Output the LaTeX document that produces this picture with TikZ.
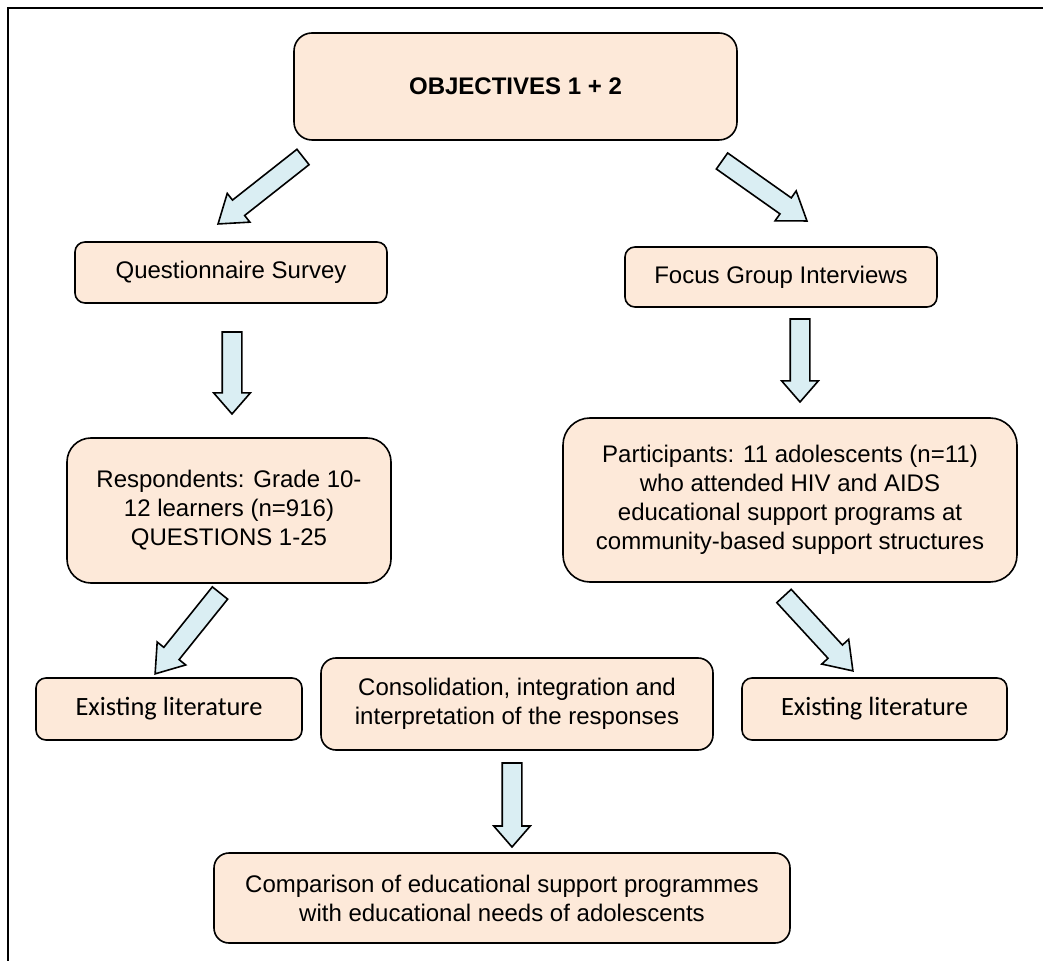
\documentclass[tikz,border=0pt]{standalone}
\usepackage{fontspec}
\setmainfont{Liberation Sans}
\newfontfamily\calfont{Carlito}
\usetikzlibrary{shapes.arrows,calc}
\definecolor{boxfill}{HTML}{FDE9D9}
\definecolor{arrfill}{HTML}{DAEEF3}
\tikzset{
  box/.style={draw, fill=boxfill, line width=0.8pt, align=center, inner sep=0pt,
    font=\fontsize{12}{14.5}\selectfont},
  blockarr/.style={single arrow, draw, fill=arrfill, line width=0.8pt,
    inner xsep=0pt, inner ysep=4.5pt, outer sep=0pt,
    single arrow head extend=4.25pt, single arrow tip angle=#1},
  blockarr/.default=82
}
% block arrow from a tail point to a tip point
\newcommand{\blockarrow}[3][82]{%
  \path let \p1=($(#3)-(#2)$) in
    node[blockarr=#1, minimum height={veclen(\x1,\y1)}, rotate={atan2(\y1,\x1)}, anchor=tail] at (#2) {};}

\begin{document}
\begin{tikzpicture}[x=0.5pt,y=-0.5pt]
\useasboundingbox (0,0) rectangle (1043,961);
\draw[line width=0.8pt] (8,961) -- (8,8) -- (1043,8);

\node[box, minimum width=221.5pt, minimum height=53.5pt, rounded corners=9pt,
  font=\fontsize{12}{14.5}\selectfont\bfseries] (obj) at (515.5,86.5) {OBJECTIVES 1 + 2};
\node[box, minimum width=156pt, minimum height=30.5pt, rounded corners=5pt] (qs) at (231,272.5) {Questionnaire Survey};
\node[box, minimum width=156pt, minimum height=30pt, rounded corners=5pt] (fg) at (781,277) {Focus Group Interviews};
\node[box, minimum width=162pt, minimum height=72.5pt, rounded corners=12pt] (resp) at (229,510.5)
  {Respondents: Grade 10-\\12 learners (n=916)\\QUESTIONS 1-25};
\node[box, minimum width=227pt, minimum height=82pt, rounded corners=13.5pt] (part) at (790,500)
  {Participants: 11 adolescents (n=11)\\who attended HIV and AIDS\\educational support programs at\\community-based support structures};
\node[box, minimum width=133pt, minimum height=31pt, rounded corners=5pt,
  font=\calfont\fontsize{13.2}{16}\selectfont] (litL) at (169,709) {Existing literature};
\node[box, minimum width=196pt, minimum height=46pt, rounded corners=7.5pt] (cons) at (517,704)
  {Consolidation, integration and\\interpretation of the responses};
\node[box, minimum width=132.5pt, minimum height=31pt, rounded corners=5pt,
  font=\calfont\fontsize{13.2}{16}\selectfont] (litR) at (874.5,709) {Existing literature};
\node[box, minimum width=288pt, minimum height=45pt, rounded corners=7.5pt] (comp) at (502,898)
  {Comparison of educational support programmes\\with educational needs of adolescents};

% arrow ends
\coordinate (aL1s) at (303,157);  \coordinate (aL1e) at (218,224);
\coordinate (aR1s) at (722,161);  \coordinate (aR1e) at (807,221);
\coordinate (aQs)  at (232,332);  \coordinate (aQe)  at (232,414);
\coordinate (aFs)  at (800,319);  \coordinate (aFe)  at (800,402);
\coordinate (aL2s) at (220,593);  \coordinate (aL2e) at (155,674);
\coordinate (aR2s) at (784,596);  \coordinate (aR2e) at (853,671);
\coordinate (aCs)  at (512,763);  \coordinate (aCe)  at (512,847);

\blockarrow[70]{aL1s}{aL1e}
\blockarrow[70]{aR1s}{aR1e}
\blockarrow{aQs}{aQe}
\blockarrow{aFs}{aFe}
\blockarrow[70]{aL2s}{aL2e}
\blockarrow[70]{aR2s}{aR2e}
\blockarrow{aCs}{aCe}
\end{tikzpicture}
\end{document}
